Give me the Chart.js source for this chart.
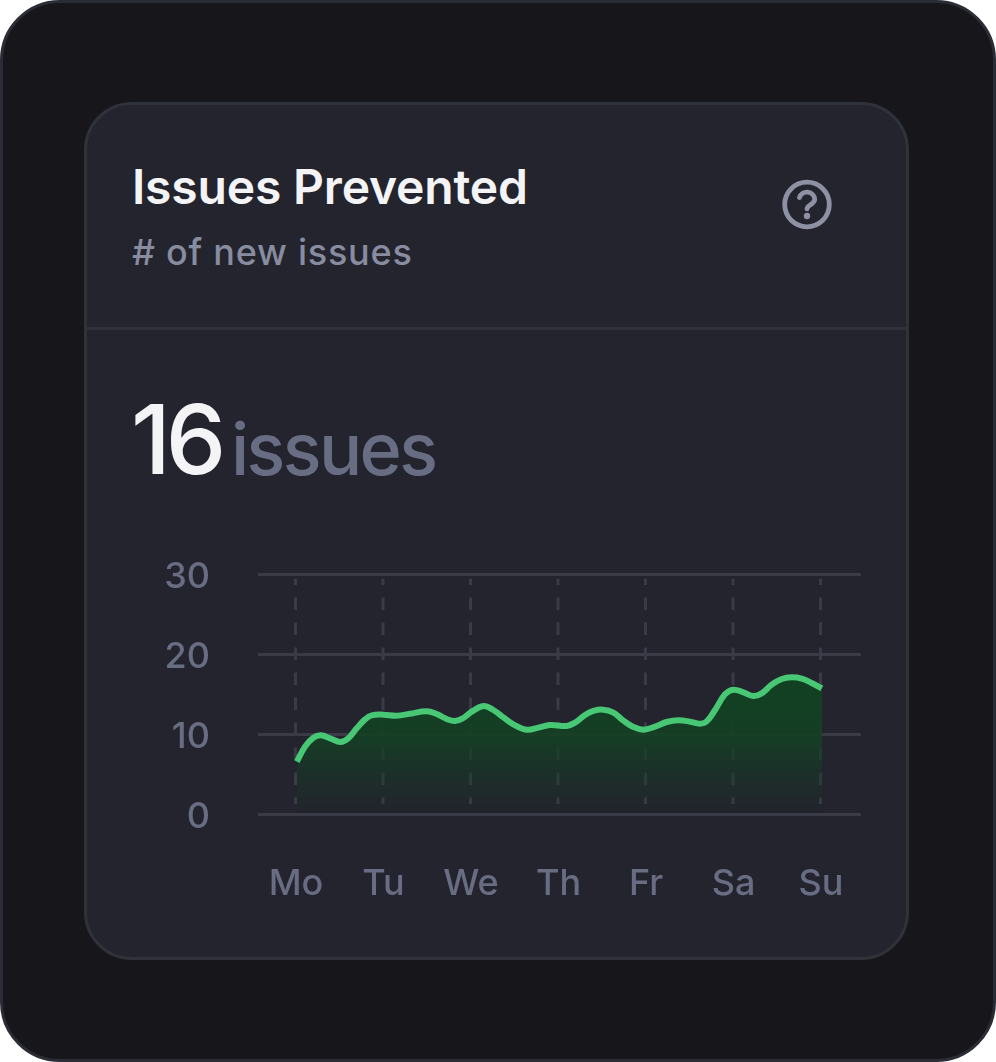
<!DOCTYPE html>
<html><head><meta charset="utf-8">
<script src="https://cdn.jsdelivr.net/npm/chart.js@4"></script>
<style>
html,body{margin:0;padding:0;background:#fff;width:996px;height:1062px;overflow:hidden;font-family:Inter,sans-serif}
.abs{position:absolute}
#outer{left:0;top:0;width:990px;height:1056px;background:#17171b;border:3px solid #2b2d36;border-radius:60px}
#card{left:84px;top:102px;width:819px;height:852px;background:#23242d;border:3px solid #30323b;border-radius:48px}
#div{left:87px;top:327px;width:819px;height:3px;background:#30323b}
.t{white-space:nowrap;line-height:1}
#title{left:132px;top:163px;font-size:48px;font-weight:600;color:#f4f4f7;letter-spacing:-.17px}
#sub{left:132px;top:234px;font-size:36px;font-weight:500;color:#888ca1;letter-spacing:.75px}
#num{left:131px;top:391px;font-size:96px;color:#f4f4f7;letter-spacing:-5px;font-weight:500}
#unit{left:231px;top:413px;font-size:72px;font-weight:500;color:#696d84;letter-spacing:-2.6px}
#wrap{left:130px;top:540px;width:760px;height:380px}
</style></head><body>
<div class="abs" id="outer"></div>
<div class="abs" id="card"></div>
<div class="abs" id="div"></div>
<div class="abs t" id="title">Issues Prevented</div>
<div class="abs t" id="sub"># of new issues</div>
<div class="abs t" id="num">16</div>
<div class="abs t" id="unit">issues</div>
<svg class="abs" style="left:780px;top:178px" width="54" height="54" viewBox="780 178 54 54" fill="none" stroke="#8e90a3" stroke-width="4.8" stroke-linecap="round">
<circle cx="807" cy="204.5" r="22.3"/>
<path d="M799.5 197.5a7.8 7.8 0 0 1 15.2 1.8c0 5-7.7 5.6-7.7 9.6"/>
<circle cx="807" cy="216" r="3.2" fill="#8e90a3" stroke="none"/>
</svg>
<div class="abs" id="wrap"><canvas id="c" width="760" height="380" style="display:block;width:760px;height:380px"></canvas></div>
<script>
const dayLabels=["Mo","Tu","We","Th","Fr","Sa","Su"];
const dayTicks=[0,1,2,3,4,5,6];
const yTicks=[0,10,20,30];
const seriesX=[0.01,0.103,0.198,0.286,0.389,0.51,0.598,0.693,0.789,0.865,0.998,1.15,1.303,1.493,1.608,1.722,1.817,1.912,2.008,2.141,2.255,2.37,2.484,2.636,2.77,2.903,3.093,3.189,3.303,3.398,3.512,3.627,3.741,3.855,3.97,4.103,4.236,4.37,4.503,4.617,4.693,4.789,4.903,4.998,5.112,5.227,5.322,5.436,5.551,5.665,5.779,5.893,6.01];
const seriesY=[6.54,8.42,9.54,9.83,9.46,9.0,9.46,10.71,11.83,12.33,12.42,12.29,12.54,12.83,12.5,11.88,11.63,12,12.79,13.5,13,12.08,11.21,10.54,10.79,11.13,11,11.42,12.38,12.88,13.04,12.67,11.67,10.88,10.54,10.92,11.5,11.71,11.54,11.29,11.58,13,14.96,15.54,15.21,14.75,15.08,16.17,16.88,17.08,16.92,16.38,15.71];
const vGrid={id:'vGrid',beforeDatasetsDraw(ch){
  const g=ch.ctx,x=ch.scales.x,y=ch.scales.y;
  g.save();g.strokeStyle='#3a3b46';g.lineWidth=3;g.setLineDash([12.5,12.5]);g.lineDashOffset=6.25;
  dayTicks.forEach(v=>{const p=x.getPixelForValue(v)-0.5;g.beginPath();g.moveTo(p,y.getPixelForValue(29.4));g.lineTo(p,y.getPixelForValue(1.25));g.stroke();});
  g.restore();
}};
new Chart(document.getElementById('c'),{
  type:'line',
  data:{datasets:[{
    data:seriesX.map((x,i)=>({x,y:seriesY[i]})),
    borderColor:'#48c774',borderWidth:6,tension:0.4,pointRadius:0,borderCapStyle:'butt',
    fill:'origin',
    backgroundColor(c){
      const a=c.chart.chartArea;if(!a)return 'transparent';
      const s=c.chart.scales.y;
      const g=c.chart.ctx.createLinearGradient(0,s.getPixelForValue(17.5),0,s.getPixelForValue(0));
      g.addColorStop(0,'rgba(17,66,34,1)');
      g.addColorStop(0.45,'rgba(20,64,36,0.92)');
      g.addColorStop(1,'rgba(24,58,40,0)');
      return g;
    }
  }]},
  options:{
    responsive:false,animation:false,devicePixelRatio:1,
    layout:{padding:{top:34,right:29,bottom:0,left:0}},
    plugins:{legend:{display:false},tooltip:{enabled:false}},
    scales:{
      x:{type:'linear',min:-0.4343,max:6.457,
        afterBuildTicks(s){s.ticks=dayTicks.map(value=>({value}));},
        afterFit(s){s.height=106;s.paddingLeft=0;s.paddingRight=0;},
        grid:{display:false},border:{display:false},
        ticks:{autoSkip:false,maxRotation:0,padding:41,color:'#696d84',font:{family:'Inter',size:36,weight:'500'},
          callback(v){return dayLabels[v];}}},
      y:{min:0,max:30,
        afterBuildTicks(s){s.ticks=yTicks.map(value=>({value}));},
        afterFit(s){s.width=128;s.paddingTop=0;s.paddingBottom=0;},
        grid:{color:'#3a3b46',lineWidth:3,drawTicks:false},border:{display:false},
        ticks:{padding:48,labelOffset:3,color:'#696d84',font:{family:'Inter',size:36,weight:'500'}}}
    }
  },
  plugins:[vGrid]
});
</script>
</body></html>
